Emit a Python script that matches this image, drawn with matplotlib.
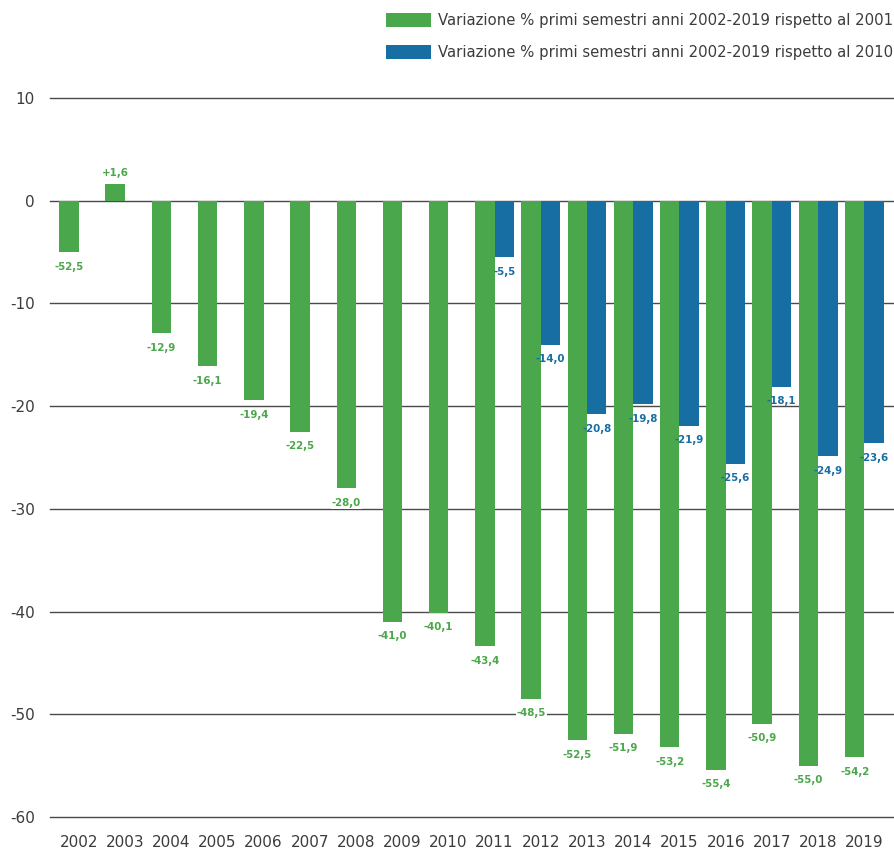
import numpy as np
import matplotlib
matplotlib.use('Agg')
import matplotlib.pyplot as plt

# dati
anni = ['2002', '2003', '2004', '2005', '2006', '2007', '2008', '2009', '2010',
        '2011', '2012', '2013', '2014', '2015', '2016', '2017', '2018', '2019']
var_2001 = [-5.0, 1.6, -12.9, -16.1, -19.4, -22.5, -28.0, -41.0, -40.1,
            -43.4, -48.5, -52.5, -51.9, -53.2, -55.4, -50.9, -55.0, -54.2]
etichette_2001 = ['-52,5', '+1,6', '-12,9', '-16,1', '-19,4', '-22,5', '-28,0', '-41,0', '-40,1',
                  '-43,4', '-48,5', '-52,5', '-51,9', '-53,2', '-55,4', '-50,9', '-55,0', '-54,2']
anni_2010 = ['2011', '2012', '2013', '2014', '2015', '2016', '2017', '2018', '2019']
var_2010 = [-5.5, -14.0, -20.8, -19.8, -21.9, -25.6, -18.1, -24.9, -23.6]
etichette_2010 = ['-5,5', '-14,0', '-20,8', '-19,8', '-21,9', '-25,6', '-18,1', '-24,9', '-23,6']
yticks = [10, 0, -10, -20, -30, -40, -50, -60]

verde = '#4ba74b'
blu = '#176ea3'
testo = '#3c3c3c'

fig = plt.figure(figsize=(8.95, 8.51), dpi=100)
ax = fig.add_axes([50 / 895, 34 / 851, 843 / 895, 719 / 851])

x = np.arange(len(anni))
w = 0.42
x_blu = np.array([anni.index(a) for a in anni_2010])

ax.bar(x - w / 2, var_2001, width=w, color=verde, zorder=2,
       label='Variazione % primi semestri anni 2002-2019 rispetto al 2001')
ax.bar(x_blu + w / 2, var_2010, width=w, color=blu, zorder=2,
       label='Variazione % primi semestri anni 2002-2019 rispetto al 2010')

# etichette dei valori
def etichetta(xi, v, t, col, sfondo):
    off = 8.4 if v > 0 else -10.5
    box = dict(boxstyle='square,pad=0.08', fc='white', ec='none') if sfondo else None
    ax.annotate(t, (xi, v), xytext=(0, off), textcoords='offset points',
                ha='center', va='center', fontsize=8.2, fontweight='bold',
                fontstretch='condensed', family='DejaVu Sans',
                color=col, zorder=3, bbox=box)

for xi, v, t in zip(x - w / 2, var_2001, etichette_2001):
    etichetta(xi, v, t, verde, True)
for xi, v, t in zip(x_blu + w / 2, var_2010, etichette_2010):
    etichetta(xi, v, t, blu, False)

ax.set_ylim(-60, 10)
ax.set_xlim(-0.62, 17.62)
ax.set_yticks(yticks)
ax.set_yticklabels([str(v) for v in yticks])
ax.set_xticks(x)
ax.set_xticklabels(anni)
ax.yaxis.grid(True, color='#4a4a4a', linewidth=1)
for gl in ax.get_ygridlines():
    gl.set_clip_on(False)  # la linea a -60 sta sul bordo
ax.set_axisbelow(True)
for s in ax.spines.values():
    s.set_visible(False)
ax.tick_params(axis='both', length=0, labelsize=11, colors=testo)
ax.tick_params(axis='y', pad=11)
ax.tick_params(axis='x', pad=13)
for lab in ax.get_xticklabels() + ax.get_yticklabels():
    lab.set_family('DejaVu Sans')

leg = fig.legend(loc='upper right', bbox_to_anchor=(893 / 895, 1 - 13 / 851),
                 frameon=False, handlelength=3.0, handleheight=1.08,
                 handletextpad=0.46, labelspacing=1.15, borderaxespad=0,
                 borderpad=0, prop={'family': 'DejaVu Sans', 'size': 10.7})
for t in leg.get_texts():
    t.set_color(testo)

fig.savefig('out.png', dpi=100)
